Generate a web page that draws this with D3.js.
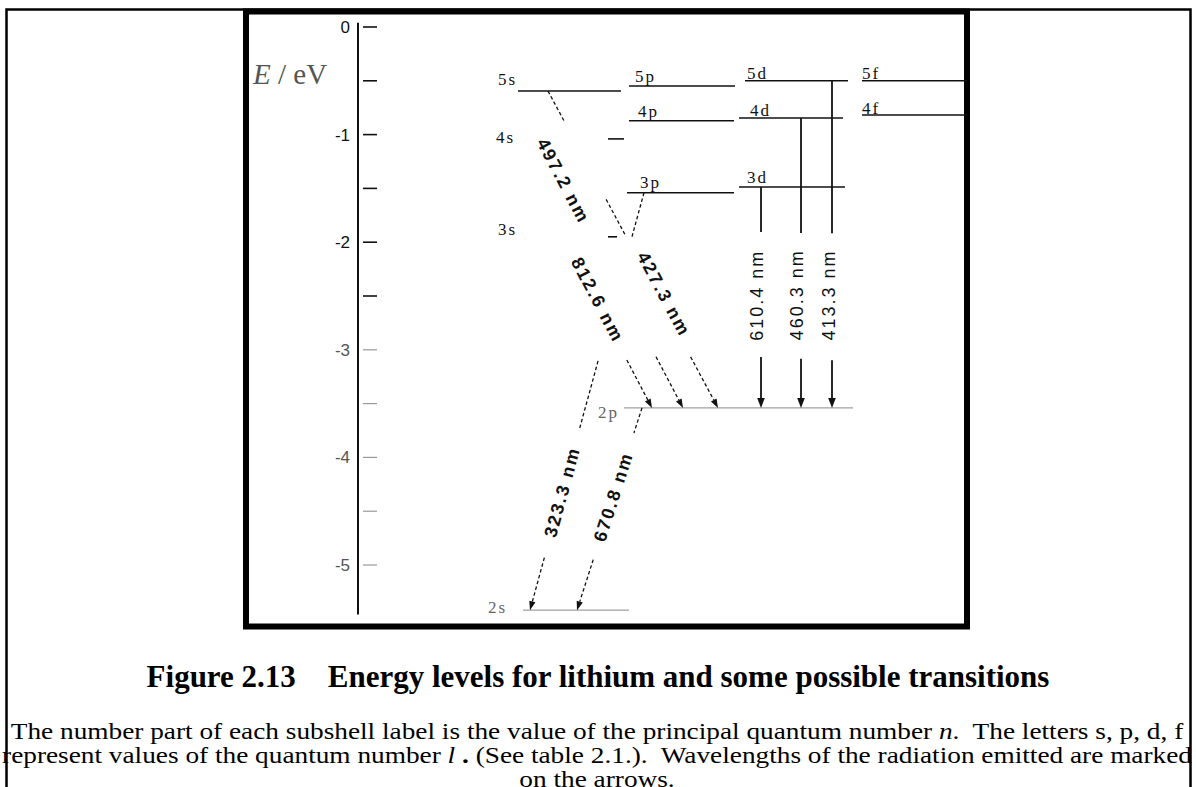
<!DOCTYPE html>
<html>
<head>
<meta charset="utf-8">
<script src="https://cdn.jsdelivr.net/npm/d3@7"></script>
<style>
  html, body { margin: 0; padding: 0; background: #fff; }
  svg { display: block; }
  text.pre { white-space: pre; }
</style>
</head>
<body>
<svg id="fig" width="1196" height="787"></svg>
<script>
// ---- Data: lithium energy levels (eV) ----
const levelNames    = ["2s", "3s", "4s", "5s", "2p", "3p", "4p", "5p", "3d", "4d", "5d", "4f", "5f"];
const levelEnergies = [-5.42, -1.95, -1.04, -0.595, -3.54, -1.54, -0.871, -0.548, -1.487, -0.846, -0.50, -0.818, -0.50];

// ---- Data: transitions (upper -> lower) and emitted wavelength (nm) ----
const transUpper  = ["5s", "4s", "3s", "3p", "2p", "3d", "4d", "5d"];
const transLower  = ["2p", "2p", "2p", "2s", "2s", "2p", "2p", "2p"];
const wavelengths = [427.3, 497.2, 812.6, 323.3, 670.8, 610.4, 460.3, 413.3];

// ---- Data: energy axis ----
const energyTicks = [0, -0.5, -1, -1.5, -2, -2.5, -3, -3.5, -4, -4.5, -5];
const labelTicks  = [0, -1, -2, -3, -4, -5];
const tickLabels  = ["0", "-1", "-2", "-3", "-4", "-5"];

// ---- Layout (horizontal offsets to the right of the energy axis) ----
const levelSpan = {
  "2s": [165, 271], "3s": [250, 259], "4s": [250, 266], "5s": [160, 263],
  "2p": [266, 495], "3p": [269, 376], "4p": [271, 376], "5p": [271, 377],
  "3d": [381, 487], "4d": [381, 485], "5d": [387, 490],
  "4f": [504, 609], "5f": [504, 609]
};
// label anchor: [x offset, baseline shift from the level line]
const levelLabelPos = {
  "2s": [130, 3], "3s": [140, -2], "4s": [138, 4], "5s": [140, -6],
  "2p": [240, 10], "3p": [282, -5], "4p": [280, -4], "5p": [277, -4],
  "3d": [389, -4], "4d": [392, -2], "5d": [389, -2],
  "4f": [504, -1], "5f": [504, -2]
};
// per transition: x at upper and lower level, drawn pieces (fractions along the path),
// label position, start of the arrow segment, dashed or solid
const transLayout = [
  { x0: 190, x1: 360, pieces: [[0, 0.095], [0.342, 0.459]], labelT: 0.65, arrowFrom: 0.839, dashed: true, shift: -6 },
  { x0: 183, x1: 325, pieces: [], labelT: 0.156, arrowFrom: 0.81, dashed: true, shift: 0 },
  { x0: 204, x1: 294, pieces: [], labelT: 0.374, arrowFrom: 0.72, dashed: true, shift: -2 },
  { x0: 286, x1: 172, pieces: [[0, 0.106], [0.403, 0.568]], labelT: 0.717, arrowFrom: 0.874, dashed: true, shift: 0 },
  { x0: 284, x1: 219, pieces: [[0, 0.124]], labelT: 0.44, arrowFrom: 0.75, dashed: true, shift: 0 },
  { x0: 403, x1: 403, pieces: [[0, 0.204]], labelT: 0.49, arrowFrom: 0.77, dashed: false, shift: -4 },
  { x0: 443, x1: 443, pieces: [[0, 0.397]], labelT: 0.61, arrowFrom: 0.83, dashed: false, shift: -4 },
  { x0: 474, x1: 474, pieces: [[0, 0.466]], labelT: 0.655, arrowFrom: 0.854, dashed: false, shift: -3 }
];

const svg = d3.select("#fig");

// Scales
const y = d3.scaleLinear().domain([0, -5.5]).range([27, 27 + 5.5 * 107.6]);
const x = d3.scaleLinear().domain([0, 610]).range([358, 968]);
const energyOf = new Map(levelNames.map((n, i) => [n, levelEnergies[i]]));

// ---- Page border and figure frame ----
svg.append("path")
  .attr("d", "M6.5,800 V9.5 H1190.5 V800")
  .attr("fill", "none").attr("stroke", "#000").attr("stroke-width", 2.5);
svg.append("rect")
  .attr("x", 246).attr("y", 11.5).attr("width", 721).attr("height", 615)
  .attr("fill", "none").attr("stroke", "#000").attr("stroke-width", 6);

// ---- Energy axis ----
svg.append("line")
  .attr("x1", x(0)).attr("x2", x(0))
  .attr("y1", y(0.04)).attr("y2", y(-5.46))
  .attr("stroke", "#111").attr("stroke-width", 2);

svg.append("g").selectAll("line").data(energyTicks).join("line")
  .attr("x1", x(5)).attr("x2", x(19))
  .attr("y1", d => y(d)).attr("y2", d => y(d))
  .attr("stroke", d => d >= -2.5 ? "#111" : "#999")
  .attr("stroke-width", d => d >= -2.5 ? 1.6 : 1.2);

const axisG = svg.append("g")
  .attr("transform", `translate(${x(0) - 8},0)`)
  .call(d3.axisLeft(y).tickValues(labelTicks).tickSize(0).tickPadding(0)
    .tickFormat(d => tickLabels[labelTicks.indexOf(d)]));
axisG.select(".domain").remove();
axisG.selectAll("text")
  .attr("font-family", "'Liberation Sans', Arial, sans-serif")
  .attr("font-size", 17)
  .attr("fill", d => d >= -2 ? "#111" : "#555");

svg.append("text")
  .attr("x", 253).attr("y", 84)
  .attr("font-family", "'Liberation Serif', 'Times New Roman', serif")
  .attr("font-size", 29).attr("fill", "#555")
  .call(t => {
    t.append("tspan").attr("font-style", "italic").text("E");
    t.append("tspan").text(" / eV");
  });

// ---- Energy levels ----
const lowLevel = n => n === "2s" || n === "2p";
svg.append("g").selectAll("line").data(levelNames).join("line")
  .attr("x1", n => x(levelSpan[n][0])).attr("x2", n => x(levelSpan[n][1]))
  .attr("y1", n => y(energyOf.get(n))).attr("y2", n => y(energyOf.get(n)))
  .attr("stroke", n => lowLevel(n) ? "#a0a0a0" : "#111")
  .attr("stroke-width", n => lowLevel(n) ? 1.3 : 1.6);

svg.append("g").selectAll("text").data(levelNames).join("text")
  .attr("x", n => x(levelLabelPos[n][0]))
  .attr("y", n => y(energyOf.get(n)) + levelLabelPos[n][1])
  .attr("font-family", "'Liberation Serif', 'Times New Roman', serif")
  .attr("font-size", 17)
  .attr("letter-spacing", 2)
  .attr("fill", n => lowLevel(n) ? "#666" : "#111")
  .text(n => n);

// ---- Transitions ----
const tg = svg.append("g");
transUpper.forEach((up, i) => {
  const L = transLayout[i];
  const p0 = [x(L.x0), y(energyOf.get(up))];
  const p1 = [x(L.x1), y(energyOf.get(transLower[i]))];
  const at = t => [p0[0] + (p1[0] - p0[0]) * t, p0[1] + (p1[1] - p0[1]) * t];
  const dash = L.dashed ? "3.5,2.5" : null;
  const sw = L.dashed ? 1.3 : 1.8;

  const seg = (a, b) => tg.append("line")
    .attr("x1", a[0]).attr("y1", a[1]).attr("x2", b[0]).attr("y2", b[1])
    .attr("stroke", "#111").attr("stroke-width", sw)
    .attr("stroke-dasharray", dash);

  L.pieces.forEach(([a, b]) => seg(at(a), at(b)));

  // arrow shaft and head
  const s = at(L.arrowFrom);
  const ang = Math.atan2(p1[1] - p0[1], p1[0] - p0[0]);
  const headLen = L.dashed ? 9 : 10, headW = L.dashed ? 3.2 : 3.8;
  const cx = Math.cos(ang), sy = Math.sin(ang);
  const base = [p1[0] - headLen * cx, p1[1] - headLen * sy];
  seg(s, base);
  tg.append("path")
    .attr("d", d3.line()([
      p1,
      [base[0] - headW * sy, base[1] + headW * cx],
      [base[0] + headW * sy, base[1] - headW * cx]
    ]) + "Z")
    .attr("fill", "#111");

  // wavelength label, written along the arrow
  const c = at(L.labelT);
  let deg = ang * 180 / Math.PI;
  if (p1[0] - p0[0] <= 0) deg -= 180;
  const nx = -Math.sin(deg * Math.PI / 180), ny = Math.cos(deg * Math.PI / 180);
  tg.append("text")
    .attr("transform", `translate(${c[0] + nx * L.shift},${c[1] + ny * L.shift}) rotate(${deg})`)
    .attr("text-anchor", "middle")
    .attr("dominant-baseline", "central")
    .attr("font-family", "'Liberation Sans', Arial, sans-serif")
    .attr("font-size", 18)
    .attr("font-weight", L.dashed ? "bold" : "normal")
    .attr("letter-spacing", 2)
    .attr("fill", "#111")
    .text(`${d3.format(".1f")(wavelengths[i])} nm`);
});

// ---- Caption ----
const serif = "'Liberation Serif', 'Times New Roman', serif";

// Title: size the type so the heading spans its measure
const titleGap = 32;
const title = svg.append("text")
  .attr("class", "pre")
  .attr("x", 598).attr("y", 687)
  .attr("text-anchor", "middle")
  .attr("font-family", serif).attr("font-weight", "bold")
  .attr("font-size", 24)
  .attr("fill", "#000");
title.append("tspan").text("Figure 2.13");
title.append("tspan").attr("dx", titleGap).text("Energy levels for lithium and some possible transitions");
const glyphW = title.node().getBBox().width - titleGap;
title.attr("font-size", 24 * (903 - titleGap) / glyphW);

// Explanatory paragraph, set slightly wide to fill the page width
const body = svg.append("g")
  .attr("font-family", serif).attr("font-size", 22.5).attr("fill", "#000")
  .attr("text-anchor", "middle");

const line = (yy) => body.append("text").attr("class", "pre").attr("x", 0).attr("y", yy);
const l1 = line(0);
l1.append("tspan").text("The number part of each subshell label is the value of the principal quantum number ");
l1.append("tspan").attr("font-style", "italic").text("n");
l1.append("tspan").text(".  The letters s, p, d, f");

const l2 = line(24);
l2.append("tspan").text("represent values of the quantum number ");
l2.append("tspan").attr("font-style", "italic").text("l");
l2.append("tspan").attr("font-weight", "bold").text(" .");
l2.append("tspan").text(" (See table 2.1.).  Wavelengths of the radiation emitted are marked");

line(48).text("on the arrows.");

const bodyW = l1.node().getBBox().width;
body.attr("transform", `translate(597,739) scale(${1174 / bodyW},1)`);
</script>
</body>
</html>
